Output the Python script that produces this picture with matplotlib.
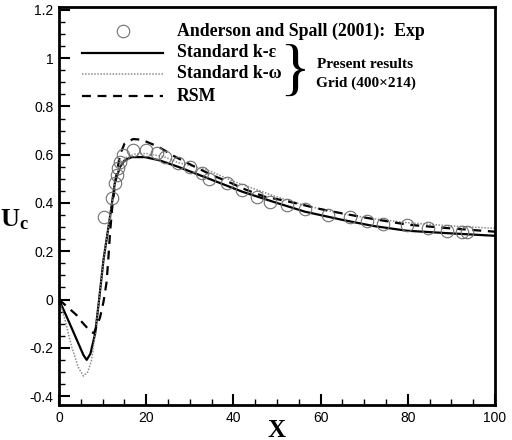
import numpy as np
import matplotlib
matplotlib.use("Agg")
import matplotlib.pyplot as plt
from matplotlib.ticker import MultipleLocator, FormatStrFormatter

# Fonts
plt.rcParams['font.family'] = ['Liberation Sans', 'DejaVu Sans']
plt.rcParams['mathtext.fontset'] = 'custom'
plt.rcParams['mathtext.bf'] = 'Liberation Serif:bold'
plt.rcParams['mathtext.rm'] = 'Liberation Serif'

##########
# Daten
##########
# Anderson and Spall (2001): Exp
exp_x = [10.4, 12.2, 12.8, 13.3, 13.6, 14.0, 14.7, 17.0, 20.0, 22.5, 24.3, 27.3,
         30.0, 32.8, 34.5, 38.6, 42.0, 45.5, 48.4, 52.3, 56.4, 61.7, 66.7, 70.6,
         74.3, 79.8, 84.6, 89.0, 92.4, 93.6]
exp_u = [0.342, 0.421, 0.483, 0.516, 0.545, 0.570, 0.600, 0.620, 0.620, 0.607,
         0.590, 0.566, 0.550, 0.524, 0.500, 0.483, 0.454, 0.425, 0.404, 0.392,
         0.377, 0.350, 0.342, 0.325, 0.313, 0.309, 0.296, 0.284, 0.280, 0.280]

# Standard k-epsilon
ke_x = [0, 2.1, 4.4, 5.6, 6.35, 7.2, 8.3, 9.2, 10.2, 11.7, 12.8, 14.0, 15.1,
        16.7, 19.7, 23.0, 27.3, 33.9, 42.0, 50.0, 56.4, 65.0, 72.0, 79.8, 90.0, 100.0]
ke_u = [0, -0.085, -0.18, -0.23, -0.25, -0.225, -0.14, 0.0, 0.164, 0.343, 0.483,
        0.55, 0.578, 0.59, 0.59, 0.577, 0.55, 0.504, 0.447, 0.40, 0.364, 0.33,
        0.305, 0.285, 0.274, 0.264]

# Standard k-omega
kw_x = [0, 1.4, 2.9, 4.4, 5.6, 6.6, 7.5, 8.3, 9.2, 10.2, 11.7, 12.8, 14.0, 15.5,
        17.5, 20.0, 24.0, 27.4, 34.0, 40.0, 45.0, 50.0, 56.4, 65.0, 72.0, 80.0, 90.0, 100.0]
kw_u = [0, -0.085, -0.196, -0.28, -0.317, -0.30, -0.25, -0.14, 0.0, 0.164, 0.343,
        0.483, 0.555, 0.59, 0.603, 0.605, 0.592, 0.567, 0.537, 0.49, 0.457, 0.425,
        0.39, 0.355, 0.335, 0.318, 0.305, 0.295]

# RSM
rsm_x = [0, 4.0, 5.2, 7.0, 8.0, 9.4, 10.2, 10.9, 11.3, 11.7, 12.2, 13.0, 14.0,
         15.0, 17.0, 19.0, 22.8, 26.6, 30.4, 35.0, 38.8, 43.0, 47.2, 51.1, 55.3,
         59.1, 62.9, 70.0, 80.0, 89.7, 100.0]
rsm_u = [0, -0.064, -0.092, -0.128, -0.14, -0.075, -0.01, 0.07, 0.164, 0.274,
         0.38, 0.50, 0.60, 0.645, 0.665, 0.662, 0.633, 0.592, 0.557, 0.516, 0.488,
         0.454, 0.426, 0.412, 0.395, 0.378, 0.364, 0.34, 0.31, 0.295, 0.281]

x_ticks = [0, 20, 40, 60, 80, 100]
y_ticks = [-0.4, -0.2, 0, 0.2, 0.4, 0.6, 0.8, 1.0, 1.2]

##########
# Plot
##########
fig = plt.figure(figsize=(5.12, 4.4), dpi=100)
ax = fig.add_axes([59 / 512, 1 - 405 / 440, 436 / 512, 398 / 440])

ax.plot(ke_x, ke_u, color='black', lw=1.6, solid_joinstyle='round')
ax.plot(kw_x, kw_u, color='#8c8c8c', lw=1.1, linestyle=(0, (1, 1)))
ax.plot(rsm_x, rsm_u, color='black', lw=1.6, linestyle=(0, (4, 3)))
ax.plot(exp_x, exp_u, linestyle='none', marker='o', markersize=9,
        markerfacecolor='none', markeredgecolor='#707070', markeredgewidth=0.8)

ax.set_xlim(0, 100)
ax.set_ylim(-0.437, 1.212)
ax.set_xticks(x_ticks)
ax.set_yticks(y_ticks)
ax.xaxis.set_minor_locator(MultipleLocator(5))
ax.yaxis.set_minor_locator(MultipleLocator(0.05))
ax.yaxis.set_major_formatter(FormatStrFormatter('%g'))
ax.tick_params(which='both', direction='in', top=False, right=False, width=1.5)
ax.tick_params(which='major', length=8, labelsize=10, pad=4)
ax.tick_params(which='minor', length=4, width=1.0)
for sp in ax.spines.values():
    sp.set_linewidth(2)

# Achsenbeschriftungen
fig.text(15 / 512, 1 - 220 / 440, r'$\mathbf{U_c}$', fontsize=19,
         ha='center', va='center')
fig.text(277 / 512, 1 - 430 / 440, 'X', fontsize=18, fontweight='bold',
         family='Liberation Serif', ha='center', va='center')

# Legende von Hand
serif = 'Liberation Serif'
ax.plot([14.7], [1.113], linestyle='none', marker='o', markersize=9,
        markerfacecolor='none', markeredgecolor='#707070', markeredgewidth=0.8)
ax.plot([5.3, 23.9], [1.022, 1.022], color='black', lw=1.6)
ax.plot([5.3, 23.9], [0.935, 0.935], color='#8c8c8c', lw=1.1, linestyle=(0, (1, 1)))
ax.plot([5.3, 23.9], [0.843, 0.843], color='black', lw=1.6, linestyle=(0, (4, 3)))
ax.text(27.1, 1.113, 'Anderson and Spall (2001):  Exp', family=serif,
        fontweight='bold', fontsize=12.8, va='center', ha='left')
ax.text(27.1, 1.022, 'Standard k-\u03b5', family=serif, fontweight='bold',
        fontsize=12.8, va='center', ha='left')
ax.text(27.1, 0.935, 'Standard k-\u03c9', family=serif, fontweight='bold',
        fontsize=12.8, va='center', ha='left')
ax.text(27.1, 0.843, 'RSM', family=serif, fontweight='bold',
        fontsize=12.8, va='center', ha='left')
ax.text(53.9, 0.935, '}', family=serif, fontsize=46, va='center', ha='center',
        fontweight='light')
ax.text(70.2, 0.972, 'Present results', family=serif, fontweight='bold',
        fontsize=11, va='center', ha='center')
ax.text(70.4, 0.897, 'Grid (400\u00d7214)', family=serif, fontweight='bold',
        fontsize=11, va='center', ha='center')

fig.savefig('out.png', dpi=100)
